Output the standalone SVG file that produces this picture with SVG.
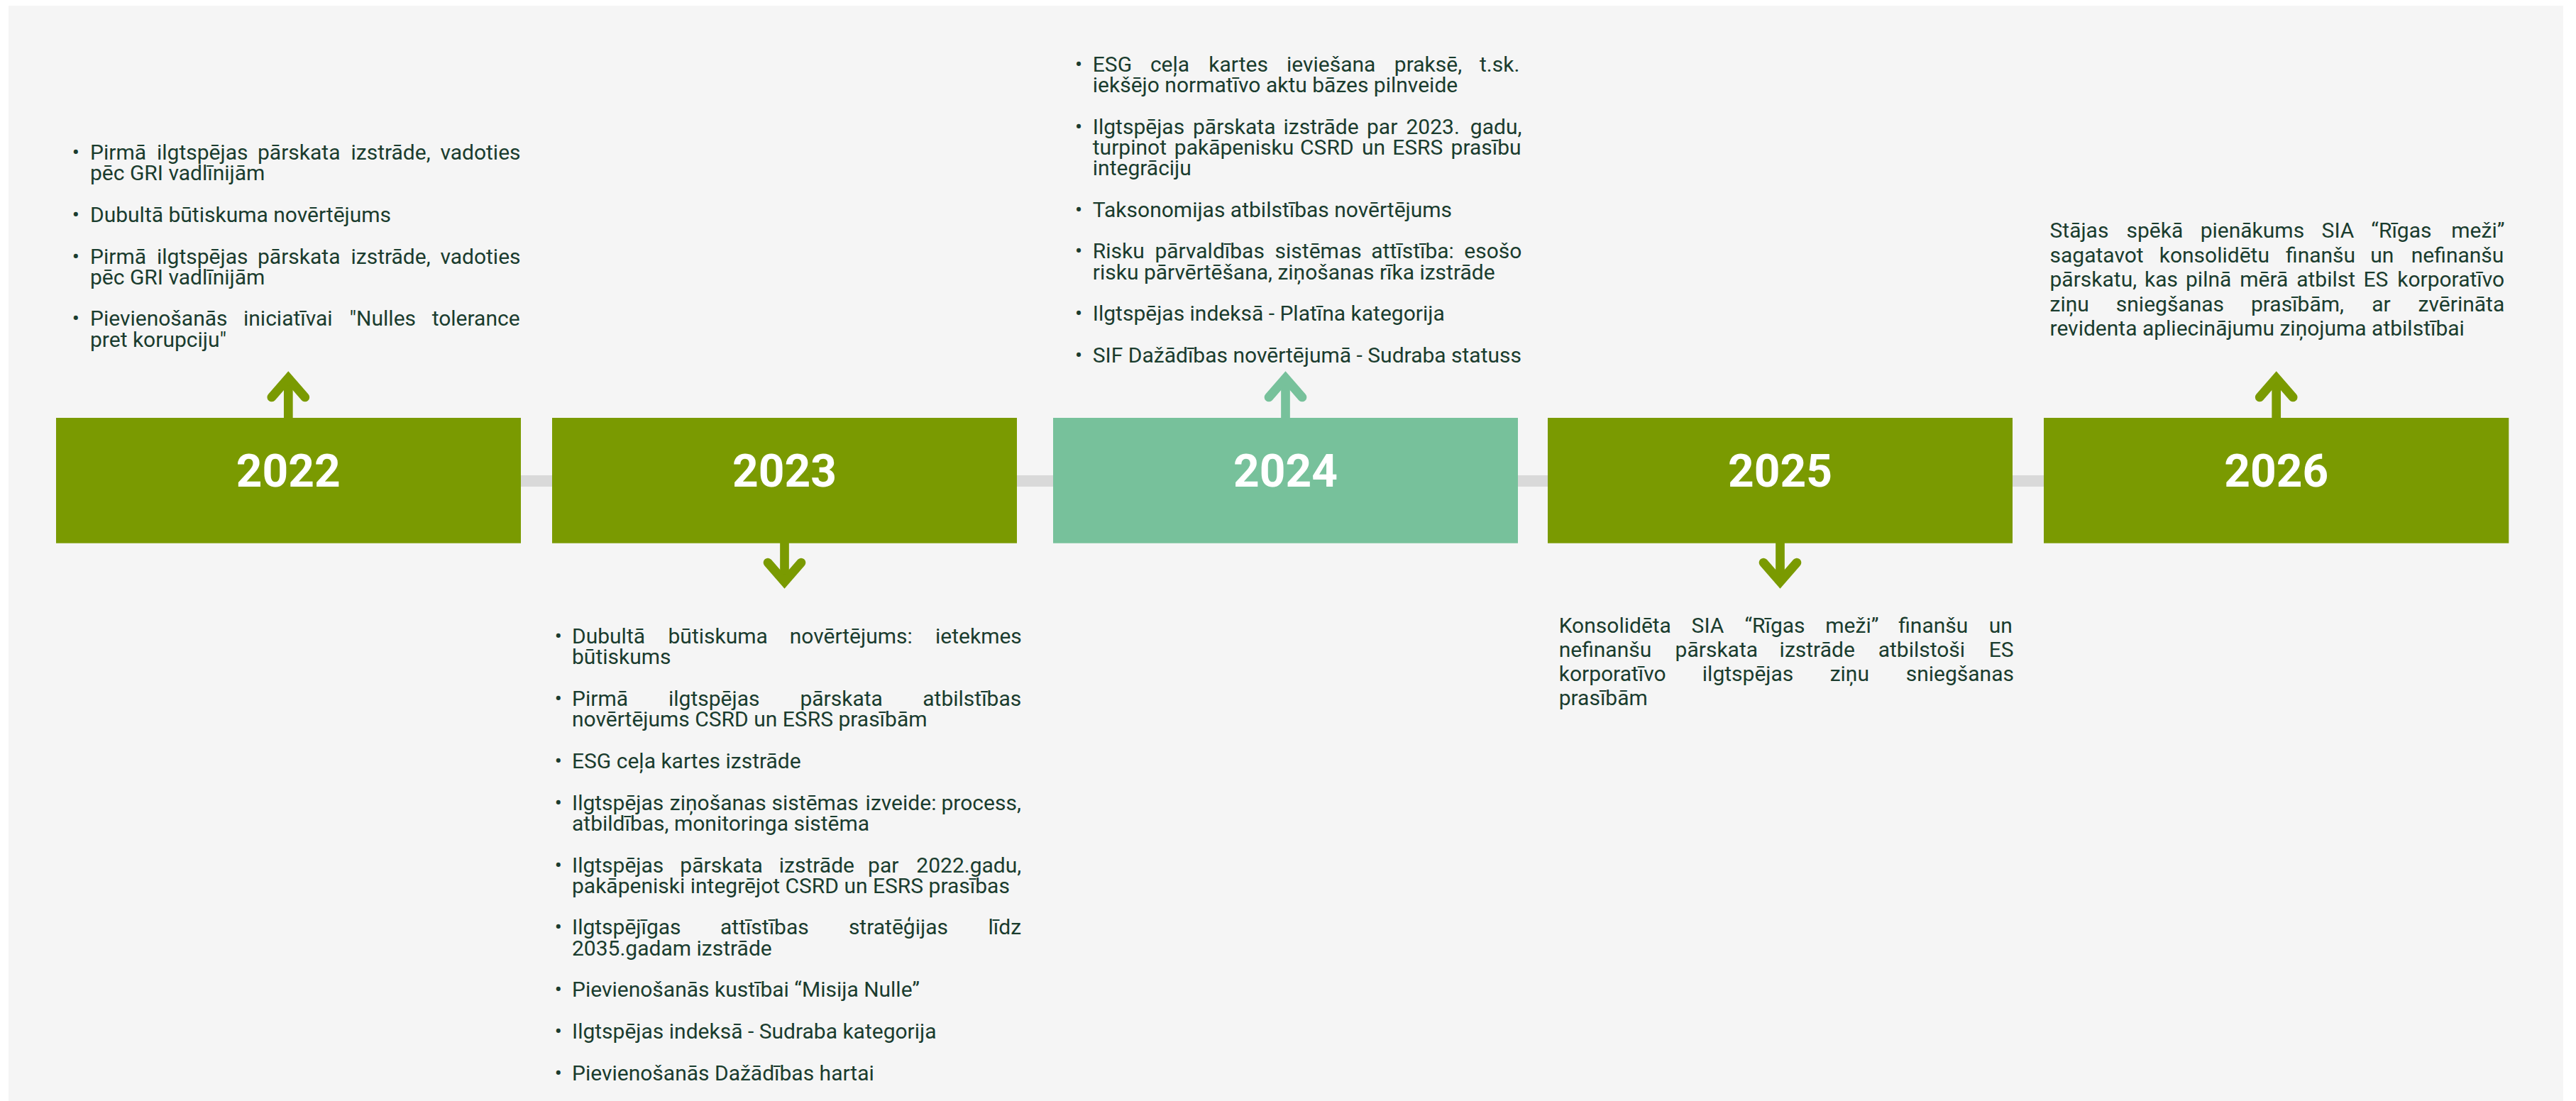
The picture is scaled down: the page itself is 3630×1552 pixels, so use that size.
<svg xmlns="http://www.w3.org/2000/svg" width="3630" height="1552" viewBox="0 0 3630 1552">
<style>
.bg{fill:#f5f5f5}
.olive{fill:#7a9a01}
.mint{fill:#77c19b}
.yr{font-family:Roboto,"Liberation Sans",sans-serif;font-weight:700;font-size:64px;fill:#ffffff;text-anchor:middle}
.t{font-family:Roboto,"Liberation Sans",sans-serif;font-size:30px;fill:#1a3c2e}
.bul{font-family:Roboto,"Liberation Sans",sans-serif;font-size:30px;fill:#1a3c2e;text-anchor:middle}
.bar{fill:#d9d9d9}
.arr{fill:none;stroke-width:12.7;stroke-linecap:round;stroke-linejoin:miter;stroke-miterlimit:10}
.stem{fill:none;stroke-width:12.7;stroke-linecap:butt}
.ao{stroke:#7a9a01}
.am{stroke:#77c19b}
</style>
<rect class="bg" x="12" y="8" width="3600" height="1544"/>

<g id="connectors">
  <rect class="bar" x="406" y="670" width="2802" height="16"/>
  <!-- 2022 up -->
  <path class="stem ao" d="M406.3 590 V532"/>
  <path class="arr ao" d="M382.8 560 L406.3 533 L429.8 560"/>
  <!-- 2023 down -->
  <path class="stem ao" d="M1105.5 764 V821"/>
  <path class="arr ao" d="M1082 793 L1105.5 820 L1129 793"/>
  <!-- 2024 up -->
  <path class="stem am" d="M1811.5 590 V532"/>
  <path class="arr am" d="M1788 560 L1811.5 533 L1835 560"/>
  <!-- 2025 down -->
  <path class="stem ao" d="M2508.5 764 V821"/>
  <path class="arr ao" d="M2485 793 L2508.5 820 L2532 793"/>
  <!-- 2026 up -->
  <path class="stem ao" d="M3207.7 590 V532"/>
  <path class="arr ao" d="M3184.2 560 L3207.7 533 L3231.2 560"/>
</g>

<g id="node-2022">
  <rect class="olive" x="79" y="589" width="655" height="176.7"/>
  <text class="yr" x="406.3" y="685.7">2022</text>
</g>
<g id="node-2023">
  <rect class="olive" x="778" y="589" width="655" height="176.7"/>
  <text class="yr" x="1105.5" y="685.7">2023</text>
</g>
<g id="node-2024">
  <rect class="mint" x="1484" y="589" width="655" height="176.7"/>
  <text class="yr" x="1811.5" y="685.7">2024</text>
</g>
<g id="node-2025">
  <rect class="olive" x="2181" y="589" width="655" height="176.7"/>
  <text class="yr" x="2508.5" y="685.7">2025</text>
</g>
<g id="node-2026">
  <rect class="olive" x="2880" y="589" width="655.3" height="176.7"/>
  <text class="yr" x="3207.7" y="685.7">2026</text>
</g>

<g id="text-2022">
  <text class="bul" x="106.7" y="225">•</text>
  <text class="t" y="225"><tspan x="127">Pirmā</tspan><tspan x="221">ilgtspējas</tspan><tspan x="363">pārskata</tspan><tspan x="494.5">izstrāde,</tspan><tspan x="620.4">vadoties</tspan></text>
  <text class="t" x="127" y="254.3">pēc GRI vadlīnijām</text>
  <text class="bul" x="106.7" y="312.9">•</text>
  <text class="t" x="127" y="312.9">Dubultā būtiskuma novērtējums</text>
  <text class="bul" x="106.7" y="371.5">•</text>
  <text class="t" y="371.5"><tspan x="127">Pirmā</tspan><tspan x="221">ilgtspējas</tspan><tspan x="363">pārskata</tspan><tspan x="494.5">izstrāde,</tspan><tspan x="620.4">vadoties</tspan></text>
  <text class="t" x="127" y="400.8">pēc GRI vadlīnijām</text>
  <text class="bul" x="106.7" y="459.4">•</text>
  <text class="t" y="459.4"><tspan x="127">Pievienošanās</tspan><tspan x="343">iniciatīvai</tspan><tspan x="492.5">"Nulles</tspan><tspan x="608.7">tolerance</tspan></text>
  <text class="t" x="127" y="488.7">pret korupciju"</text>
</g>

<g id="text-2023">
  <text class="bul" x="786.7" y="907">•</text>
  <text class="t" y="907"><tspan x="806">Dubultā</tspan><tspan x="941.5">būtiskuma</tspan><tspan x="1112.7">novērtējums:</tspan><tspan x="1318">ietekmes</tspan></text>
  <text class="t" x="806" y="936.3">būtiskums</text>
  <text class="bul" x="786.7" y="995">•</text>
  <text class="t" y="995"><tspan x="806">Pirmā</tspan><tspan x="942">ilgtspējas</tspan><tspan x="1127.4">pārskata</tspan><tspan x="1300.3">atbilstības</tspan></text>
  <text class="t" x="806" y="1024.3">novērtējums CSRD un ESRS prasībām</text>
  <text class="bul" x="786.7" y="1083">•</text>
  <text class="t" x="806" y="1083">ESG ceļa kartes izstrāde</text>
  <text class="bul" x="786.7" y="1141.6">•</text>
  <text class="t" y="1141.6"><tspan x="806">Ilgtspējas</tspan><tspan x="943.8">ziņošanas</tspan><tspan x="1087.6">sistēmas</tspan><tspan x="1219.6">izveide:</tspan><tspan x="1326.5">process,</tspan></text>
  <text class="t" x="806" y="1170.9">atbildības, monitoringa sistēma</text>
  <text class="bul" x="786.7" y="1229.5">•</text>
  <text class="t" y="1229.5"><tspan x="806">Ilgtspējas</tspan><tspan x="958.3">pārskata</tspan><tspan x="1097.8">izstrāde</tspan><tspan x="1223.1">par</tspan><tspan x="1291.3">2022.gadu,</tspan></text>
  <text class="t" x="806" y="1258.8">pakāpeniski integrējot CSRD un ESRS prasības</text>
  <text class="bul" x="786.7" y="1317.4">•</text>
  <text class="t" y="1317.4"><tspan x="806">Ilgtspējīgas</tspan><tspan x="1015">attīstības</tspan><tspan x="1195.9">stratēģijas</tspan><tspan x="1392.5">līdz</tspan></text>
  <text class="t" x="806" y="1346.7">2035.gadam izstrāde</text>
  <text class="bul" x="786.7" y="1405.3">•</text>
  <text class="t" x="806" y="1405.3">Pievienošanās kustībai “Misija Nulle”</text>
  <text class="bul" x="786.7" y="1464">•</text>
  <text class="t" x="806" y="1464">Ilgtspējas indeksā - Sudraba kategorija</text>
  <text class="bul" x="786.7" y="1522.6">•</text>
  <text class="t" x="806" y="1522.6">Pievienošanās Dažādības hartai</text>
</g>

<g id="text-2024">
  <text class="bul" x="1520" y="100.7">•</text>
  <text class="t" y="100.7"><tspan x="1539.8">ESG</tspan><tspan x="1620.9">ceļa</tspan><tspan x="1703.3">kartes</tspan><tspan x="1813">ieviešana</tspan><tspan x="1964.8">praksē,</tspan><tspan x="2085">t.sk.</tspan></text>
  <text class="t" x="1539.8" y="130">iekšējo normatīvo aktu bāzes pilnveide</text>
  <text class="bul" x="1520" y="188.6">•</text>
  <text class="t" y="188.6"><tspan x="1539.8">Ilgtspējas</tspan><tspan x="1681">pārskata</tspan><tspan x="1808.5">izstrāde</tspan><tspan x="1926">par</tspan><tspan x="1981.5">2023.</tspan><tspan x="2071.8">gadu,</tspan></text>
  <text class="t" y="217.9"><tspan x="1539.8">turpinot</tspan><tspan x="1654.8">pakāpenisku</tspan><tspan x="1832.1">CSRD</tspan><tspan x="1918.9">un</tspan><tspan x="1962.2">ESRS</tspan><tspan x="2044.6">prasību</tspan></text>
  <text class="t" x="1539.8" y="247.2">integrāciju</text>
  <text class="bul" x="1520" y="305.8">•</text>
  <text class="t" x="1539.8" y="305.8">Taksonomijas atbilstības novērtējums</text>
  <text class="bul" x="1520" y="364.4">•</text>
  <text class="t" y="364.4"><tspan x="1539.8">Risku</tspan><tspan x="1627.4">pārvaldības</tspan><tspan x="1796.6">sistēmas</tspan><tspan x="1932.3">attīstība:</tspan><tspan x="2063.3">esošo</tspan></text>
  <text class="t" x="1539.8" y="393.7">risku pārvērtēšana, ziņošanas rīka izstrāde</text>
  <text class="bul" x="1520" y="452.3">•</text>
  <text class="t" x="1539.8" y="452.3">Ilgtspējas indeksā - Platīna kategorija</text>
  <text class="bul" x="1520" y="510.9">•</text>
  <text class="t" x="1539.8" y="510.9">SIF Dažādības novērtējumā - Sudraba statuss</text>
</g>

<g id="text-2025">
  <text class="t" y="891.7"><tspan x="2196.7">Konsolidēta</tspan><tspan x="2383.6">SIA</tspan><tspan x="2458.4">“Rīgas</tspan><tspan x="2572.3">meži”</tspan><tspan x="2675.2">finanšu</tspan><tspan x="2802.8">un</tspan></text>
  <text class="t" y="925.9"><tspan x="2196.7">nefinanšu</tspan><tspan x="2360.6">pārskata</tspan><tspan x="2507.6">izstrāde</tspan><tspan x="2646.7">atbilstoši</tspan><tspan x="2802.8">ES</tspan></text>
  <text class="t" y="960.1"><tspan x="2196.7">korporatīvo</tspan><tspan x="2398.8">ilgtspējas</tspan><tspan x="2578.7">ziņu</tspan><tspan x="2685.7">sniegšanas</tspan></text>
  <text class="t" x="2196.7" y="994.3">prasībām</text>
</g>

<g id="text-2026">
  <text class="t" y="335"><tspan x="2888.5">Stājas</tspan><tspan x="2996.5">spēkā</tspan><tspan x="3100.7">pienākums</tspan><tspan x="3271.6">SIA</tspan><tspan x="3341.3">“Rīgas</tspan><tspan x="3454.3">meži”</tspan></text>
  <text class="t" y="369.6"><tspan x="2888.5">sagatavot</tspan><tspan x="3042.7">konsolidētu</tspan><tspan x="3221">finanšu</tspan><tspan x="3340.3">un</tspan><tspan x="3397.8">nefinanšu</tspan></text>
  <text class="t" y="404.2"><tspan x="2888.5">pārskatu,</tspan><tspan x="3022">kas</tspan><tspan x="3080">pilnā</tspan><tspan x="3156.2">mērā</tspan><tspan x="3236.2">atbilst</tspan><tspan x="3330.5">ES</tspan><tspan x="3378.2">korporatīvo</tspan></text>
  <text class="t" y="438.8"><tspan x="2888.5">ziņu</tspan><tspan x="2981.8">sniegšanas</tspan><tspan x="3171.9">prasībām,</tspan><tspan x="3342.3">ar</tspan><tspan x="3407.6">zvērināta</tspan></text>
  <text class="t" x="2888.5" y="473.4">revidenta apliecinājumu ziņojuma atbilstībai</text>
</g>
</svg>
